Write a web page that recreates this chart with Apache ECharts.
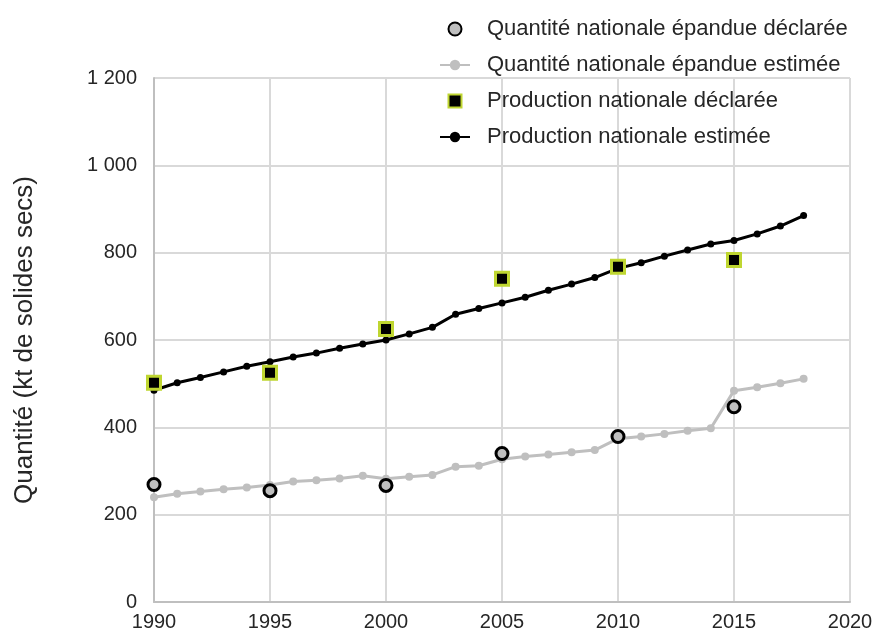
<!DOCTYPE html>
<html>
<head>
<meta charset="utf-8">
<script src="https://cdn.jsdelivr.net/npm/echarts@6/dist/echarts.min.js"></script>
<style>
  html, body { margin: 0; padding: 0; background: #fff; }
  #main { width: 876px; height: 640px; }
</style>
</head>
<body>
<div id="main"></div>
<script>
var years = [1990, 1991, 1992, 1993, 1994, 1995, 1996, 1997, 1998, 1999,
  2000, 2001, 2002, 2003, 2004, 2005, 2006, 2007, 2008, 2009,
  2010, 2011, 2012, 2013, 2014, 2015, 2016, 2017, 2018];
var prodEstimee = [485, 502, 514, 527, 540, 550, 561, 570, 581, 591,
  600, 614, 629, 659, 672, 685, 698, 714, 728, 743,
  764, 777, 792, 806, 820, 828, 843, 861, 885];
var qteEstimee = [240, 248, 253, 258, 262, 268, 276, 279, 283, 289,
  282, 287, 291, 310, 312, 327, 333, 338, 343, 348,
  374, 379, 385, 392, 398, 484, 492, 501, 511];

var yearsDecl = [1990, 1995, 2000, 2005, 2010, 2015];
var prodDeclaree = [502, 525, 625, 740, 768, 783];
var qteDeclaree = [269, 255, 267, 340, 379, 447];

var seriesNames = [
  'Quantité nationale épandue déclarée',
  'Quantité nationale épandue estimée',
  'Production nationale déclarée',
  'Production nationale estimée'
];

function pairs(xs, ys) {
  return xs.map(function (x, i) { return [x, ys[i]]; });
}

var squarePath = 'path://M0,0L10,0L10,10L0,10Z';

var myChart = echarts.init(document.getElementById('main'));

var option = {
  animation: false,
  textStyle: { fontFamily: 'Liberation Sans, Arial, sans-serif' },
  grid: { left: 154, right: 26, top: 78, bottom: 38 },
  legend: {
    orient: 'vertical',
    left: 434,
    top: 13,
    itemWidth: 30,
    itemHeight: 13,
    itemGap: 14,
    textStyle: { fontSize: 22, color: '#262626', padding: [0, 0, 0, 12] },
    data: [
      { name: seriesNames[0] },
      { name: seriesNames[1] },
      { name: seriesNames[2], icon: squarePath },
      { name: seriesNames[3] }
    ]
  },
  xAxis: {
    type: 'value',
    min: 1990,
    max: 2020,
    interval: 5,
    axisLine: { show: true, onZero: false, lineStyle: { color: '#bfbfbf', width: 2 } },
    axisTick: { show: false },
    axisLabel: {
      fontSize: 20,
      color: '#262626',
      margin: 10,
      formatter: function (v) { return String(v); }
    },
    splitLine: { show: true, lineStyle: { color: '#d9d9d9', width: 2 } }
  },
  yAxis: {
    type: 'value',
    min: 0,
    max: 1200,
    interval: 200,
    name: 'Quantité (kt de solides secs)',
    nameLocation: 'middle',
    nameGap: 116,
    nameTextStyle: { fontSize: 26, color: '#262626' },
    axisLine: { show: true, lineStyle: { color: '#bfbfbf', width: 2 } },
    axisTick: { show: false },
    axisLabel: {
      fontSize: 20,
      color: '#262626',
      margin: 17,
      formatter: function (v) {
        return String(v).replace(/\B(?=(\d{3})+(?!\d))/g, ' ');
      }
    },
    splitLine: { show: true, lineStyle: { color: '#d9d9d9', width: 2 } }
  },
  series: [
    {
      name: seriesNames[1],
      type: 'line',
      data: pairs(years, qteEstimee),
      symbol: 'circle',
      symbolSize: 8,
      lineStyle: { color: '#bfbfbf', width: 3 },
      itemStyle: { color: '#bfbfbf' },
      z: 2
    },
    {
      name: seriesNames[3],
      type: 'line',
      data: pairs(years, prodEstimee),
      symbol: 'circle',
      symbolSize: 7,
      lineStyle: { color: '#000', width: 3 },
      itemStyle: { color: '#000' },
      z: 2
    },
    {
      name: seriesNames[0],
      type: 'scatter',
      data: pairs(yearsDecl, qteDeclaree),
      symbol: 'circle',
      symbolSize: 12,
      itemStyle: { color: '#bfbfbf', borderColor: '#000', borderWidth: 3, opacity: 1 },
      z: 4
    },
    {
      name: seriesNames[2],
      type: 'scatter',
      data: pairs(yearsDecl, prodDeclaree),
      symbol: squarePath,
      symbolKeepAspect: true,
      symbolSize: 13,
      itemStyle: { color: '#000', borderColor: '#bfd631', borderWidth: 3, opacity: 1 },
      z: 4
    }
  ]
};

myChart.setOption(option);
</script>
</body>
</html>
